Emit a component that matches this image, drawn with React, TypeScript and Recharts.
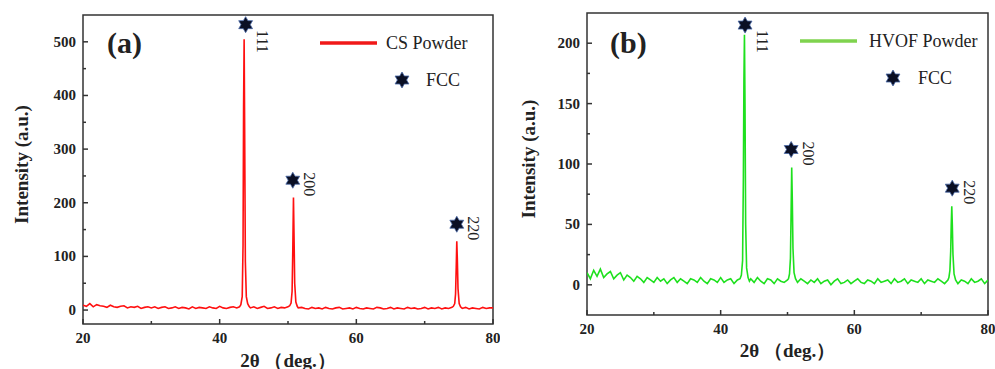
import React from 'react';
import { ComposedChart, Line, Scatter, XAxis, YAxis, ReferenceArea, Legend, Label } from 'recharts';

const FONT = '"Liberation Serif", "Times New Roman", serif';
const INK = '#222';

// [2θ (deg.), intensity (a.u.)], CS powder
const csPattern: [number, number][] = [
  [20, 9], [20.5, 7], [21, 12], [21.5, 6], [22, 10], [22.5, 8], [23, 7], [23.5, 5], [24, 9], [24.5, 6],
  [25, 5], [25.5, 7], [26, 8], [26.5, 4], [27, 6], [27.5, 5], [28, 7], [28.5, 3], [29, 5], [29.5, 6],
  [30, 4], [30.5, 6], [31, 3], [31.5, 5], [32, 6], [32.5, 3], [33, 4], [33.5, 6], [34, 3], [34.5, 5],
  [35, 4], [35.5, 2], [36, 6], [36.5, 3], [37, 5], [37.5, 4], [38, 3], [38.5, 6], [39, 4], [39.5, 3],
  [40, 7], [40.5, 4], [41, 3], [41.5, 5], [42, 6], [42.5, 4],
  [42.9, 6], [43.1, 10], [43.3, 25], [43.42, 120], [43.5, 380], [43.58, 505], [43.66, 330], [43.76, 90],
  [43.9, 25], [44.1, 12], [44.3, 7],
  [44.5, 4], [45, 6], [45.5, 3], [46, 5], [46.5, 7], [47, 3], [47.5, 4], [48, 6], [48.5, 3], [49, 5],
  [49.5, 4], [50, 6],
  [50.25, 8], [50.45, 13], [50.6, 35], [50.7, 110], [50.8, 210], [50.88, 140], [50.98, 50], [51.15, 15],
  [51.35, 7],
  [51.5, 4], [52, 5], [52.5, 3], [53, 2], [53.5, 5], [54, 3], [54.5, 4], [55, 2], [55.5, 5], [56, 3],
  [56.5, 2], [57, 4], [57.5, 5], [58, 2], [58.5, 3], [59, 4], [59.5, 2], [60, 5], [60.5, 3], [61, 2],
  [61.5, 4], [62, 3], [62.5, 2], [63, 5], [63.5, 4], [64, 2], [64.5, 3], [65, 5], [65.5, 2], [66, 4],
  [66.5, 3], [67, 2], [67.5, 5], [68, 3], [68.5, 4], [69, 2], [69.5, 3], [70, 5], [70.5, 2], [71, 4],
  [71.5, 3], [72, 5], [72.5, 2], [73, 4], [73.5, 3], [74, 5],
  [74.2, 7], [74.4, 12], [74.52, 30], [74.62, 80], [74.7, 128], [74.78, 95], [74.88, 40], [75.05, 12],
  [75.25, 6],
  [75.5, 3], [76, 5], [76.5, 2], [77, 4], [77.5, 3], [78, 2], [78.5, 5], [79, 3], [79.5, 4], [80, 4],
];

// [2θ (deg.), intensity (a.u.)], HVOF powder
const hvofPattern: [number, number][] = [
  [20, 10], [20.5, 5], [21, 12], [21.5, 7], [22, 13], [22.5, 6], [23, 9], [23.5, 11], [24, 5], [24.5, 8],
  [25, 10], [25.5, 4], [26, 8], [26.5, 6], [27, 3], [27.5, 7], [28, 5], [28.5, 2], [29, 6], [29.5, 4],
  [30, 2], [30.5, 6], [31, 3], [31.5, 5], [32, 1], [32.5, 4], [33, 6], [33.5, 2], [34, 5], [34.5, 3],
  [35, 1], [35.5, 5], [36, 4], [36.5, 2], [37, 6], [37.5, 3], [38, 1], [38.5, 5], [39, 4], [39.5, 2],
  [40, 6], [40.5, 2], [41, 4], [41.5, 5], [42, 1], [42.5, 4],
  [42.9, 5], [43.1, 8], [43.28, 20], [43.4, 90], [43.48, 170], [43.56, 207], [43.64, 150], [43.74, 50],
  [43.88, 14], [44.1, 6], [44.3, 3],
  [44.5, 5], [45, 2], [45.5, 6], [46, 3], [46.5, 1], [47, 5], [47.5, 4], [48, 1], [48.5, 5], [49, 3],
  [49.5, 2], [50, 4],
  [50.15, 5], [50.3, 9], [50.44, 22], [50.54, 60], [50.63, 97], [50.72, 70], [50.82, 30], [50.98, 10],
  [51.2, 5],
  [51.5, 2], [52, 5], [52.5, 3], [53, 1], [53.5, 4], [54, 2], [54.5, 5], [55, 1], [55.5, 3], [56, 4],
  [56.5, 0], [57, 3], [57.5, 5], [58, 1], [58.5, 2], [59, 4], [59.5, 1], [60, 3], [60.5, 5], [61, 2],
  [61.5, 1], [62, 4], [62.5, 3], [63, 1], [63.5, 5], [64, 2], [64.5, 3], [65, 4], [65.5, 1], [66, 5],
  [66.5, 2], [67, 3], [67.5, 5], [68, 1], [68.5, 4], [69, 3], [69.5, 2], [70, 5], [70.5, 1], [71, 4],
  [71.5, 3], [72, 2], [72.5, 5], [73, 3], [73.5, 1], [74, 4],
  [74.15, 6], [74.3, 12], [74.42, 28], [74.5, 50], [74.58, 65], [74.66, 50], [74.76, 25], [74.92, 9],
  [75.15, 4],
  [75.5, 1], [76, 4], [76.5, 3], [77, 1], [77.5, 5], [78, 2], [78.5, 3], [79, 5], [79.5, 1], [80, 4],
];

// FCC reflections: star marker positions
const peakLabels = ['111', '200', '220'];
const csMarkTheta = [43.8, 50.7, 74.7];
const csMarkIntensity = [532, 242, 160];
const hvofMarkTheta = [43.65, 50.55, 74.65];
const hvofMarkIntensity = [215, 112, 80];

const thetaTicks = [20, 30, 40, 50, 60, 70, 80];
const thetaLabelled = [20, 40, 60, 80];
const csYTicks = [0, 50, 100, 150, 200, 250, 300, 350, 400, 450, 500];
const hvofYTicks = [0, 25, 50, 75, 100, 125, 150, 175, 200];

const csData = csPattern.map(([x, y]) => ({ x, y }));
const hvofData = hvofPattern.map(([x, y]) => ({ x, y }));
const csMarks = csMarkTheta.map((x, i) => ({ x, y: csMarkIntensity[i], label: peakLabels[i] }));
const hvofMarks = hvofMarkTheta.map((x, i) => ({ x, y: hvofMarkIntensity[i], label: peakLabels[i] }));

const serif: React.CSSProperties = { fontFamily: FONT };
const serifBold: React.CSSProperties = { fontFamily: FONT, fontWeight: 'bold' };

function hexagram(cx: number, cy: number, R: number) {
  const pts: string[] = [];
  for (let i = 0; i < 12; i++) {
    const r = i % 2 === 0 ? R : R / Math.sqrt(3);
    const a = -Math.PI / 2 + (i * Math.PI) / 6;
    pts.push(`${cx + r * Math.cos(a)},${cy + r * Math.sin(a)}`);
  }
  return pts.join(' ');
}

function Star({ cx, cy }: { cx: number; cy: number }) {
  return <polygon points={hexagram(cx, cy, 8)} fill="#0a0f24" stroke="#4a6aa8" strokeWidth={0.8} />;
}

function PeakMark(props: any) {
  const { cx, cy, payload } = props;
  const tx = cx + 17;
  const ty = Math.max(cy - 8, 30);
  return (
    <g>
      <Star cx={cx} cy={cy} />
      <text
        transform={`translate(${tx},${ty}) rotate(90)`}
        textAnchor="start"
        dominantBaseline="central"
        style={serif}
        fontSize={16}
        fill={INK}
      >
        {payload.label}
      </text>
    </g>
  );
}

function XTick(props: any) {
  const { x, y, payload } = props;
  const major = thetaLabelled.includes(payload.value);
  return (
    <g>
      <line x1={x} x2={x} y1={y} y2={y - (major ? 5 : 3)} stroke="#333" strokeWidth={1.5} />
      {major && (
        <text x={x} y={y + 14} textAnchor="middle" dominantBaseline="central" style={serifBold} fontSize={15} fill={INK}>
          {payload.value}
        </text>
      )}
    </g>
  );
}

function makeYTick(step: number) {
  return (props: any) => {
    const { x, y, payload } = props;
    const major = payload.value % step === 0;
    return (
      <g>
        <line x1={x} x2={x + (major ? 5 : 3)} y1={y} y2={y} stroke="#333" strokeWidth={1.5} />
        {major && (
          <text x={x - 7} y={y} textAnchor="end" dominantBaseline="central" style={serifBold} fontSize={15} fill={INK}>
            {payload.value}
          </text>
        )}
      </g>
    );
  };
}

function yTitle(dx: number) {
  return (props: any) => {
    const { x, y, height } = props.viewBox;
    const cx = x + dx;
    const cy = y + height / 2 - 5;
    return (
      <text x={cx} y={cy} transform={`rotate(-90, ${cx}, ${cy})`} textAnchor="middle" dominantBaseline="central" style={serifBold} fontSize={19} fill={INK}>
        Intensity (a.u.)
      </text>
    );
  };
}

function xTitle(dy: number) {
  return (props: any) => {
    const { x, y, width } = props.viewBox;
    return (
      <text x={x + width / 2} y={y + dy} textAnchor="middle" dominantBaseline="central" style={serifBold} fontSize={19} fill={INK}>
        2θ （deg.）
      </text>
    );
  };
}

function legendContent(name: string, color: string, textX: number, starX: number, fccX: number) {
  return () => (
    <svg width={200} height={80} style={{ overflow: 'visible' }}>
      <line x1={0} x2={57} y1={20} y2={20} stroke={color} strokeWidth={3.5} />
      <text x={textX} y={20} dominantBaseline="central" style={serif} fontSize={18} fill={INK}>{name}</text>
      <Star cx={starX} cy={57} />
      <text x={fccX} y={57} dominantBaseline="central" style={serif} fontSize={18} fill={INK}>FCC</text>
    </svg>
  );
}

interface PanelProps {
  width: number;
  data: { x: number; y: number }[];
  marks: { x: number; y: number; label: string }[];
  color: string;
  legendColor: string;
  name: string;
  yDomain: [number, number];
  yTicks: number[];
  yStep: number;
  top: number;
  yAxisWidth: number;
  xAxisHeight: number;
  yTitleDx: number;
  xTitleDy: number;
  legendPos: { left: number; top: number };
  legendLayout: [number, number, number];
}

function Panel(p: PanelProps) {
  return (
    <ComposedChart width={p.width} height={369} margin={{ top: p.top, right: 7, bottom: 0, left: 0 }}>
      <XAxis
        dataKey="x"
        type="number"
        domain={[20, 80]}
        ticks={thetaTicks}
        interval={0}
        allowDataOverflow
        axisLine={false}
        tickLine={false}
        tickSize={0}
        tickMargin={0}
        height={p.xAxisHeight}
        tick={XTick}
      >
        <Label content={xTitle(p.xTitleDy)} />
      </XAxis>
      <YAxis
        type="number"
        domain={p.yDomain}
        ticks={p.yTicks}
        interval={0}
        allowDataOverflow
        axisLine={false}
        tickLine={false}
        tickSize={0}
        tickMargin={0}
        width={p.yAxisWidth}
        tick={makeYTick(p.yStep)}
      >
        <Label content={yTitle(p.yTitleDx)} />
      </YAxis>
      <Line data={p.data} dataKey="y" type="linear" stroke={p.color} strokeWidth={1.6} dot={false} isAnimationActive={false} />
      <Scatter data={p.marks} dataKey="y" shape={PeakMark} isAnimationActive={false} />
      <ReferenceArea x1={20} x2={80} y1={p.yDomain[0]} y2={p.yDomain[1]} fill="none" fillOpacity={0} stroke="#333" strokeWidth={1.5} />
      <Legend
        layout="vertical"
        align="center"
        verticalAlign="middle"
        wrapperStyle={{ left: p.legendPos.left, top: p.legendPos.top, width: 200, height: 80 }}
        content={legendContent(p.name, p.legendColor, ...p.legendLayout)}
      />
    </ComposedChart>
  );
}

const panelTag: React.CSSProperties = {
  position: 'absolute',
  fontFamily: FONT,
  fontWeight: 'bold',
  fontSize: 30,
  color: INK,
  lineHeight: '30px',
};

export default function App() {
  return (
    <div style={{ position: 'absolute', left: 0, top: 0, width: 995, height: 369, background: '#fff', overflow: 'hidden' }}>
      <div style={{ position: 'absolute', left: 0, top: 0 }}>
        <Panel
          width={500}
          data={csData}
          marks={csMarks}
          color="#ff1010"
          legendColor="#f01818"
          name="CS Powder"
          yDomain={[-26, 550]}
          yTicks={csYTicks}
          yStep={100}
          top={15}
          yAxisWidth={83}
          xAxisHeight={45}
          yTitleDx={21}
          xTitleDy={36}
          legendPos={{ left: 320, top: 23 }}
          legendLayout={[66, 82, 106]}
        />
      </div>
      <div style={{ position: 'absolute', left: 500, top: 0 }}>
        <Panel
          width={495}
          data={hvofData}
          marks={hvofMarks}
          color="#1ee01e"
          legendColor="#7fd34e"
          name="HVOF Powder"
          yDomain={[-25, 225]}
          yTicks={hvofYTicks}
          yStep={50}
          top={13}
          yAxisWidth={87}
          xAxisHeight={54}
          yTitleDx={28}
          xTitleDy={35}
          legendPos={{ left: 300, top: 21 }}
          legendLayout={[69, 93, 118]}
        />
      </div>
      <div style={{ ...panelTag, left: 107, top: 28 }}>(a)</div>
      <div style={{ ...panelTag, left: 610, top: 28 }}>(b)</div>
    </div>
  );
}
